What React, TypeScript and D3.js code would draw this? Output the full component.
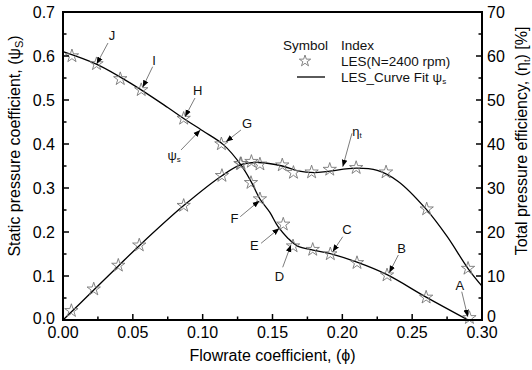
import React from "react";
import * as d3 from "d3";

// Star markers: static pressure coefficient (LES)
const psiPhi = [0.0064, 0.024, 0.041, 0.056, 0.0864, 0.1134, 0.127, 0.1346, 0.141, 0.1577, 0.1647, 0.1788, 0.1914, 0.2105, 0.232, 0.26, 0.291];
const psiVal = [0.6, 0.582, 0.548, 0.523, 0.458, 0.4, 0.355, 0.312, 0.275, 0.2175, 0.168, 0.16, 0.15, 0.13, 0.102, 0.0515, 0.005];
// Star markers: total pressure efficiency (LES), %
const etaPhi = [0.006, 0.022, 0.0396, 0.0546, 0.0864, 0.1138, 0.1275, 0.1349, 0.141, 0.157, 0.165, 0.178, 0.191, 0.2099, 0.2313, 0.2604, 0.29];
const etaVal = [2.1, 7.0, 12.4, 17.0, 26.0, 32.8, 35.5, 36.0, 35.4, 35.2, 33.5, 33.6, 34.2, 34.6, 33.6, 25.2, 11.7];
// Curve fit
const psiFitPhi = [0, 0.025, 0.05, 0.075, 0.0864, 0.1, 0.115, 0.1275, 0.1346, 0.141, 0.148, 0.154, 0.161, 0.168, 0.179, 0.19, 0.21, 0.232, 0.26, 0.29];
const psiFitVal = [0.61, 0.58, 0.535, 0.483, 0.458, 0.43, 0.398, 0.352, 0.315, 0.275, 0.245, 0.212, 0.186, 0.168, 0.159, 0.152, 0.132, 0.103, 0.052, 0.0];
const etaFitPhi = [0, 0.022, 0.04, 0.055, 0.0864, 0.1138, 0.1275, 0.14, 0.157, 0.168, 0.18, 0.19, 0.21, 0.225, 0.24, 0.26, 0.275, 0.29, 0.3];
const etaFitVal = [0, 6.8, 12.4, 17.0, 26.0, 32.8, 35.3, 35.8, 35.0, 33.9, 33.5, 33.8, 34.5, 34.0, 31.5, 25.2, 19.0, 11.7, 7.7];

const xTicks = [0, 0.05, 0.1, 0.15, 0.2, 0.25, 0.3];
const yTicks = [0, 0.1, 0.2, 0.3, 0.4, 0.5, 0.6, 0.7];
const y2Ticks = [0, 10, 20, 30, 40, 50, 60, 70];

// Annotation letters: label position and arrow (from -> tip), in data units (phi, psi)
const annLabels = ["J", "I", "H", "G", "F", "E", "D", "C", "B", "A"];
const annLabelPos = [[0.0351, 0.6477], [0.0652, 0.5909], [0.0964, 0.5227], [0.1317, 0.4455], [0.1227, 0.2311], [0.137, 0.1682], [0.1549, 0.1], [0.2033, 0.2061], [0.2425, 0.163], [0.2842, 0.0795]];
const annFrom = [[0.0322, 0.6295], [0.0642, 0.5757], [0.0945, 0.5045], [0.1274, 0.4318], [0.1269, 0.2348], [0.1418, 0.1743], [0.1573, 0.1198], [0.2003, 0.1893], [0.2401, 0.1477], [0.2855, 0.0643]];
const annTip = [[0.0241, 0.5818], [0.0571, 0.5289], [0.0874, 0.462], [0.1167, 0.4052], [0.1406, 0.2711], [0.1549, 0.2084], [0.1632, 0.1705], [0.1931, 0.1552], [0.2336, 0.1075], [0.2898, 0.0075]];

const W = 532, H = 370;
const L = 63, R = 482, T = 12, B = 320;
const FONT = "Arial, 'Liberation Sans', sans-serif";

export default function App() {
  const x = d3.scaleLinear().domain([0, 0.3]).range([L, R]);
  const y = d3.scaleLinear().domain([0, 0.7]).range([B, T]);
  const y2 = d3.scaleLinear().domain([0, 70]).range([B, T]);

  const psiLine = d3.line<number>().x((_, i) => x(psiFitPhi[i])).y((d) => y(d)).curve(d3.curveCatmullRom.alpha(0.5));
  const etaLine = d3.line<number>().x((_, i) => x(etaFitPhi[i])).y((d) => y2(d)).curve(d3.curveCatmullRom.alpha(0.5));
  const star = d3.symbol().type(d3.symbolStar).size(55)() as string;

  const minorX = d3.range(0, 0.3001, 0.025);
  const minorY = d3.range(0, 0.7001, 0.05);
  const minorY2 = d3.range(0, 70.01, 5);

  return (
    <svg width={W} height={H} style={{ position: "absolute", left: 0, top: 0 }} fontFamily={FONT}>
      <defs>
        <marker id="ah" viewBox="0 0 10 10" refX="10" refY="5" markerWidth="7" markerHeight="7" orient="auto" markerUnits="userSpaceOnUse">
          <path d="M0,1 L10,5 L0,9 z" fill="#000" />
        </marker>
      </defs>
      <rect x={0} y={0} width={W} height={H} fill="#fff" />
      {/* curves */}
      <path d={psiLine(psiFitVal) || ""} fill="none" stroke="#000" strokeWidth={1.3} />
      <path d={etaLine(etaFitVal) || ""} fill="none" stroke="#000" strokeWidth={1.3} />
      {/* markers */}
      {psiVal.map((v, i) => (
        <path key={"ps" + i} d={star} transform={`translate(${x(psiPhi[i])},${y(v)})`} fill="none" stroke="#777" strokeWidth={0.9} />
      ))}
      {etaVal.map((v, i) => (
        <path key={"es" + i} d={star} transform={`translate(${x(etaPhi[i])},${y2(v)})`} fill="none" stroke="#777" strokeWidth={0.9} />
      ))}
      {/* annotations */}
      {annLabels.map((lab, i) => (
        <g key={"a" + i}>
          <line x1={x(annFrom[i][0])} y1={y(annFrom[i][1])} x2={x(annTip[i][0])} y2={y(annTip[i][1])} stroke="#444" strokeWidth={0.7} markerEnd="url(#ah)" />
          <text x={x(annLabelPos[i][0])} y={y(annLabelPos[i][1])} fontSize={13} textAnchor="middle" dominantBaseline="central" fill="#111">{lab}</text>
        </g>
      ))}
      {/* psi_s label */}
      <line x1={x(0.0845)} y1={y(0.3864)} x2={x(0.0983)} y2={y(0.4318)} stroke="#444" strokeWidth={0.7} markerEnd="url(#ah)" />
      <text x={x(0.0795)} y={y(0.375)} fontSize={13} textAnchor="middle" dominantBaseline="central" fill="#111">ψ<tspan fontSize={8} dy={4}>s</tspan></text>
      {/* eta_t label */}
      <line x1={x(0.2069)} y1={y(0.4243)} x2={x(0.2003)} y2={y(0.3484)} stroke="#444" strokeWidth={0.7} markerEnd="url(#ah)" />
      <text x={x(0.2105)} y={y(0.4295)} fontSize={13} textAnchor="middle" dominantBaseline="central" fill="#111">η<tspan fontSize={8} dy={4}>t</tspan></text>

      {/* frame */}
      <rect x={L} y={T} width={R - L} height={B - T} fill="none" stroke="#000" strokeWidth={2} />
      {/* x ticks */}
      {minorX.map((t, i) => (
        <line key={"xt" + i} x1={x(t)} x2={x(t)} y1={B} y2={B - (i % 2 === 0 ? 6 : 3.5)} stroke="#000" strokeWidth={1.5} />
      ))}
      {xTicks.map((t) => (
        <text key={"xl" + t} x={x(t)} y={B + 18} fontSize={16} textAnchor="middle" fill="#000">{t.toFixed(2)}</text>
      ))}
      {/* y ticks */}
      {minorY.map((t, i) => (
        <line key={"yt" + i} x1={L} x2={L + (i % 2 === 0 ? 6 : 3.5)} y1={y(t)} y2={y(t)} stroke="#000" strokeWidth={1.5} />
      ))}
      {yTicks.map((t) => (
        <text key={"yl" + t} x={L - 8} y={y(t) - (t === 0 ? 2 : 0)} fontSize={16} textAnchor="end" dominantBaseline="central" fill="#000">{t.toFixed(1)}</text>
      ))}
      {/* y2 ticks */}
      {minorY2.map((t, i) => (
        <line key={"y2t" + i} x1={R} x2={R - (i % 2 === 0 ? 6 : 3.5)} y1={y2(t)} y2={y2(t)} stroke="#000" strokeWidth={1.5} />
      ))}
      {y2Ticks.map((t) => (
        <text key={"y2l" + t} x={R + 5} y={y2(t) - (t === 0 ? 4 : 0)} fontSize={16} textAnchor="start" dominantBaseline="central" fill="#000">{t}</text>
      ))}
      {/* axis titles */}
      <text x={(L + R) / 2} y={B + 41} fontSize={16} textAnchor="middle" fill="#000">Flowrate coefficient, (ϕ)</text>
      <text transform={`translate(20,146) rotate(-90)`} fontSize={16} textAnchor="middle" fill="#000">
        Static pressure coefficient, (ψ<tspan fontSize={11} dy={3}>S</tspan><tspan dy={-3}>)</tspan>
      </text>
      <text transform={`translate(527,141) rotate(-90)`} fontSize={16} textAnchor="middle" fill="#000">
        Total pressure efficiency, (η<tspan fontSize={9} dy={3}>t</tspan><tspan dy={-3}>) [%]</tspan>
      </text>
      {/* legend */}
      <text x={283} y={45} fontSize={13.5} dominantBaseline="central" fill="#111">Symbol</text>
      <text x={341} y={45} fontSize={13.5} dominantBaseline="central" fill="#111">Index</text>
      <path d={d3.symbol().type(d3.symbolStar).size(40)() as string} transform="translate(305,61)" fill="none" stroke="#777" strokeWidth={0.9} />
      <text x={341} y={61} fontSize={13.5} dominantBaseline="central" fill="#111">LES(N=2400 rpm)</text>
      <line x1={297} x2={325} y1={77} y2={77} stroke="#000" strokeWidth={1.3} />
      <text x={341} y={77} fontSize={13.5} dominantBaseline="central" fill="#111">LES_Curve Fit ψ<tspan fontSize={8} dy={4}>s</tspan></text>
    </svg>
  );
}
